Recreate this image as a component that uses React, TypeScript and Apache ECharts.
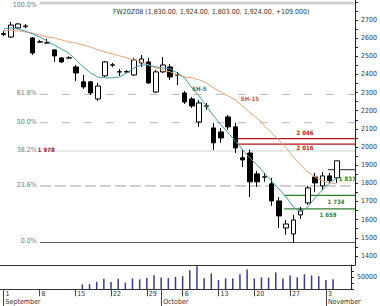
import React, { useEffect, useRef } from 'react';
import * as echarts from 'echarts';

// Trading sessions (two empty slots on the right keep space before the price axis)
const dates = [
  '2008-09-01', '2008-09-02', '2008-09-03', '2008-09-04', '2008-09-05',
  '2008-09-08', '2008-09-09', '2008-09-10', '2008-09-11', '2008-09-12',
  '2008-09-15', '2008-09-16', '2008-09-17', '2008-09-18', '2008-09-19',
  '2008-09-22', '2008-09-23', '2008-09-24', '2008-09-25', '2008-09-26',
  '2008-09-29', '2008-09-30',
  '2008-10-01', '2008-10-02', '2008-10-03',
  '2008-10-06', '2008-10-07', '2008-10-08', '2008-10-09', '2008-10-10',
  '2008-10-13', '2008-10-14', '2008-10-15', '2008-10-16', '2008-10-17',
  '2008-10-20', '2008-10-21', '2008-10-22', '2008-10-23', '2008-10-24',
  '2008-10-27', '2008-10-28', '2008-10-29', '2008-10-30', '2008-10-31',
  '2008-11-03', '2008-11-04', '2008-11-05', '2008-11-06',
];

const opens = [
  2620, 2606, 2656, 2663, 2601, 2578, 2573, 2535, 2491, 2490,
  2441, 2359, 2359, 2265, 2392, 2451, 2413, 2413, 2397, 2463,
  2469, 2303, 2414, 2441, 2398, 2298, 2265, 2138, 2225, 2105,
  2083, 2166, 2111, 1941, 1967, 1852, 1834, 1797, 1703, 1554,
  1521, 1626, 1692, 1835, 1786, 1841, 1830,
];
const highs = [
  2640, 2689, 2683, 2678, 2606, 2590, 2595, 2540, 2496, 2502,
  2452, 2397, 2364, 2353, 2474, 2463, 2430, 2425, 2491, 2507,
  2491, 2425, 2496, 2458, 2414, 2309, 2276, 2259, 2243, 2133,
  2105, 2177, 2133, 1984, 1984, 1868, 1857, 1830, 1725, 1598,
  1626, 1670, 1786, 1857, 1863, 1857, 1924,
];
const lows = [
  2610, 2601, 2650, 2655, 2507, 2573, 2572, 2469, 2463, 2485,
  2364, 2320, 2287, 2254, 2386, 2441, 2392, 2408, 2392, 2441,
  2347, 2298, 2408, 2370, 2342, 2237, 2215, 2111, 2204, 1984,
  2023, 2094, 1967, 1890, 1725, 1780, 1808, 1676, 1554, 1516,
  1474, 1604, 1681, 1753, 1764, 1802, 1803,
];
const closes = [
  2625, 2672, 2678, 2667, 2518, 2580, 2574, 2502, 2469, 2492,
  2408, 2331, 2298, 2336, 2469, 2453, 2415, 2416, 2480, 2485,
  2353, 2414, 2452, 2386, 2396, 2248, 2226, 2243, 2227, 2023,
  2050, 2111, 1995, 1929, 1808, 1808, 1836, 1703, 1620, 1576,
  1598, 1653, 1775, 1802, 1841, 1815, 1924,
];
const volumes = [
  null, null, null, null, null, null, null, null, null, null,
  null, 20300, 21000, 31000, 43000, 30000, 43000, 27000, 45000, 41000,
  46000, 58000, 49000, 46000, 51000, 54000, 78000, 95000, 45000, 65000,
  38000, 45000, 44000, 62000, 81000, 45000, 49000, 48000, 69000, 44000,
  57000, 49000, 62000, 57000, 54000, 38000, 41000,
];

// Moving averages as plotted
const sh5 = [
  2650, 2656, 2650, 2639, 2623, 2606, 2584, 2562, 2540, 2518,
  2480, 2441, 2408, 2386, 2381, 2381, 2386, 2408, 2436, 2452,
  2452, 2441, 2436, 2430, 2408, 2381, 2325, 2281, 2226, 2171,
  2122, 2078, 2034, 1984, 1940, 1901, 1857, 1813, 1769, 1725,
  1670, 1642, 1670, 1720, 1764, 1802, 1830,
];
const sh15 = [
  2639, 2645, 2639, 2634, 2628, 2617, 2606, 2601, 2590, 2579,
  2573, 2562, 2551, 2535, 2524, 2513, 2502, 2491, 2480, 2469,
  2452, 2436, 2425, 2414, 2397, 2386, 2381, 2370, 2353, 2325,
  2303, 2281, 2259, 2226, 2188, 2160, 2116, 2078, 2039, 1995,
  1945, 1901, 1863, 1835, 1813, 1802, 1797,
];

// Fibonacci retracement between swing high and swing low
const fibHigh = 2794;
const fibLow = 1474;
const fibRatios = [1, 0.618, 0.5, 0.382, 0.236, 0];
const redLevels = [2046, 2016];
const greenLevels = [1734, 1659];
const greenMarker = 1837;
const lastPriceLine = 1875;

const FONT = "'Liberation Sans Narrow', 'DejaVu Sans Condensed', 'Liberation Sans', sans-serif";
const RED = '#b3121b';
const GREEN = '#2f7d2f';

const fmtLevel = (v: number) => {
  const r = Math.round(v);
  return `${Math.floor(r / 1000)} ${String(r % 1000).padStart(3, '0')}`;
};

const fibStyles: Record<string, { stroke: string; width: number; dash: number[] | null }> = {
  '1': { stroke: '#cfcfcf', width: 3, dash: null },
  '0.618': { stroke: '#b8b8b8', width: 1, dash: [8, 14] },
  '0.5': { stroke: '#b8b8b8', width: 1, dash: [8, 14] },
  '0.382': { stroke: '#a8a8a8', width: 1, dash: [1, 1] },
  '0.236': { stroke: '#a0a0a0', width: 1, dash: [11, 4] },
  '0': { stroke: '#555555', width: 1, dash: null },
};

const isMonday = (i: number) => new Date(dates[i] + 'T12:00:00Z').getUTCDay() === 1;
const isMonthStart = (i: number) => i === 0 || dates[i].slice(5, 7) !== dates[i - 1].slice(5, 7);
const monthNames = ['January', 'February', 'March', 'April', 'May', 'June', 'July', 'August', 'September', 'October', 'November', 'December'];

export default function App() {
  const ref = useRef<HTMLDivElement>(null);

  useEffect(() => {
    if (!ref.current) return;
    const chart = echarts.init(ref.current, null, { renderer: 'svg' });

    const candleData = opens.map((o, i) => [o, closes[i], lows[i], highs[i]]);
    const fibData = fibRatios.map((r) => [5, fibLow + r * (fibHigh - fibLow), r]);

    const gridLeft = -1.2;
    const gridWidth = 360.15;

    chart.setOption({
      animation: false,
      backgroundColor: '#ffffff',
      title: {
        text: `FW20Z08 (${[opens[46], highs[46], lows[46], closes[46]]
          .map((v) => v.toLocaleString('en-US', { minimumFractionDigits: 2 }))
          .join(', ')}, +${(closes[46] - closes[45]).toFixed(3)})`,
        left: 108,
        top: 3,
        textStyle: { fontSize: 7, fontWeight: 'normal', color: '#333', fontFamily: FONT },
      },
      grid: [
        { left: gridLeft, top: 0, width: gridWidth, height: 265 },
        { left: gridLeft, top: 265, width: gridWidth, height: 24.3 },
      ],
      xAxis: [
        {
          gridIndex: 0, type: 'category', data: dates, boundaryGap: true,
          axisLine: { show: true, lineStyle: { color: '#333', width: 1 } },
          axisTick: { show: false }, axisLabel: { show: false }, splitLine: { show: false },
        },
        {
          gridIndex: 1, type: 'category', data: dates, boundaryGap: true, position: 'bottom',
          axisLine: { show: true, lineStyle: { color: '#333', width: 1 } },
          axisTick: { show: true, alignWithLabel: true, interval: (i: number) => isMonday(i), length: 7, lineStyle: { color: '#444' } },
          axisLabel: {
            show: true, interval: (i: number) => isMonday(i),
            formatter: (v: string) => String(Number(v.slice(8, 10))),
            align: 'left', margin: 1, padding: [0, 0, 0, 2],
            fontSize: 7, color: '#333', fontFamily: FONT,
          },
          splitLine: { show: false },
        },
        {
          gridIndex: 1, type: 'category', data: dates, boundaryGap: true, position: 'bottom',
          axisLine: { show: false },
          axisTick: { show: true, alignWithLabel: true, interval: (i: number) => isMonthStart(i), length: 17, lineStyle: { color: '#444' } },
          axisLabel: {
            show: true, interval: (i: number) => isMonthStart(i),
            formatter: (v: string) => monthNames[Number(v.slice(5, 7)) - 1],
            align: 'left', margin: 9, padding: [0, 0, 0, 2],
            fontSize: 7, color: '#333', fontFamily: FONT,
          },
          splitLine: { show: false },
        },
      ],
      yAxis: [
        {
          gridIndex: 0, type: 'value', position: 'right', min: 1350, max: 2810, interval: 50,
          axisLine: { show: true, lineStyle: { color: '#222' } },
          axisTick: { show: true, length: 3, lineStyle: { color: '#222' } },
          axisLabel: {
            show: true, margin: 6, fontSize: 7, color: '#333', fontFamily: FONT,
            showMinLabel: false, showMaxLabel: false,
            formatter: (v: number) => (v % 100 === 0 && v >= 1400 && v <= 2700 ? String(v) : ''),
          },
          splitLine: { show: false },
        },
        {
          gridIndex: 1, type: 'value', position: 'right', min: 0, max: 100000, interval: 25000,
          axisLine: { show: true, lineStyle: { color: '#222' } },
          axisTick: { show: true, length: 3, lineStyle: { color: '#222' } },
          axisLabel: {
            show: true, margin: 6, fontSize: 7, color: '#333', fontFamily: FONT,
            formatter: (v: number) => (v === 50000 ? String(v) : ''),
          },
          splitLine: { show: false },
        },
      ],
      series: [
        {
          type: 'custom', xAxisIndex: 0, yAxisIndex: 0, z: 1,
          data: fibData,
          encode: { x: 0, y: 1 },
          renderItem: (params: any, api: any) => {
            const ratio = api.value(2);
            const level = api.value(1);
            const [x0, y] = api.coord([api.value(0), level]);
            const x1 = params.coordSys.x + params.coordSys.width;
            const st = fibStyles[String(ratio)];
            const children: any[] = [];
            const startX = ratio === 0.382 ? x0 + 8 : x0;
            children.push({
              type: 'line', silent: true,
              shape: { x1: startX, y1: y, x2: x1, y2: y },
              style: { stroke: st.stroke, lineWidth: st.width, lineDash: st.dash },
            });
            children.push({
              type: 'text', silent: true,
              style: {
                x: x0 - 3, y: ratio === 1 ? Math.max(y, 5) : y - 1,
                text: `${(ratio * 100).toFixed(1)}%`,
                align: 'right', verticalAlign: 'middle',
                fill: '#777', font: `7px ${FONT}`,
              },
            });
            if (ratio === 0.382) {
              children.push({
                type: 'text', silent: true,
                style: {
                  x: x0 - 2, y: y - 1, text: fmtLevel(level),
                  align: 'left', verticalAlign: 'middle',
                  fill: RED, font: `bold 6px ${FONT}`,
                },
              });
            }
            return { type: 'group', children };
          },
        },
        {
          type: 'candlestick', xAxisIndex: 0, yAxisIndex: 0, z: 3,
          data: candleData, barWidth: 5,
          itemStyle: {
            color: '#ffffff', color0: '#000000',
            borderColor: '#000000', borderColor0: '#000000', borderWidth: 1,
          },
        },
        {
          type: 'line', xAxisIndex: 0, yAxisIndex: 0, z: 4, data: sh15,
          symbol: 'none', lineStyle: { color: '#e3a57a', width: 1 },
          markPoint: {
            symbol: 'circle', symbolSize: 0,
            label: { show: true, formatter: 'SH-15', color: '#c8602a', fontSize: 6, fontWeight: 'bold', fontFamily: FONT },
            data: [{ coord: [34, 2265] }],
          },
        },
        {
          type: 'line', xAxisIndex: 0, yAxisIndex: 0, z: 4, data: sh5,
          symbol: 'none', lineStyle: { color: '#4a9ba8', width: 1 },
          markPoint: {
            symbol: 'circle', symbolSize: 0,
            label: { show: true, formatter: 'SH-5', color: '#2a7f8c', fontSize: 6, fontWeight: 'bold', fontFamily: FONT },
            data: [{ coord: [27, 2325] }],
          },
        },
        {
          type: 'custom', xAxisIndex: 0, yAxisIndex: 0, z: 2,
          data: redLevels.map((v, i) => [32, v, i]),
          encode: { x: 0, y: 1 },
          renderItem: (params: any, api: any) => {
            const level = api.value(1);
            const [x0, y] = api.coord([api.value(0), level]);
            const x1 = params.coordSys.x + params.coordSys.width;
            const above = api.value(2) === 0;
            return {
              type: 'group',
              children: [
                { type: 'line', silent: true, shape: { x1: x0, y1: y, x2: x1, y2: y }, style: { stroke: RED, lineWidth: 1.2 } },
                {
                  type: 'text', silent: true,
                  style: {
                    x: 305, y: above ? y - 6 : y + 3, text: fmtLevel(level),
                    align: 'center', verticalAlign: 'middle', fill: RED, font: `bold 6px ${FONT}`,
                  },
                },
              ],
            };
          },
        },
        {
          type: 'custom', xAxisIndex: 0, yAxisIndex: 0, z: 2,
          data: greenLevels.map((v, i) => [39, v, i]),
          encode: { x: 0, y: 1 },
          renderItem: (params: any, api: any) => {
            const level = api.value(1);
            const [x0, y] = api.coord([api.value(0), level]);
            const x1 = params.coordSys.x + params.coordSys.width;
            const first = api.value(2) === 0;
            return {
              type: 'group',
              children: [
                { type: 'line', silent: true, shape: { x1: x0 - 2, y1: y, x2: x1, y2: y }, style: { stroke: GREEN, lineWidth: 1.2 } },
                {
                  type: 'text', silent: true,
                  style: {
                    x: first ? 336 : 328, y: y + 6, text: fmtLevel(level),
                    align: 'center', verticalAlign: 'middle', fill: GREEN, font: `bold 6px ${FONT}`,
                  },
                },
              ],
            };
          },
        },
        {
          type: 'custom', xAxisIndex: 0, yAxisIndex: 0, z: 2,
          data: [[46, greenMarker, lastPriceLine]],
          encode: { x: 0, y: 1 },
          renderItem: (params: any, api: any) => {
            const [x0, y] = api.coord([api.value(0), api.value(1)]);
            const yLine = api.coord([api.value(0), api.value(2)])[1];
            const x1 = params.coordSys.x + params.coordSys.width;
            return {
              type: 'group',
              children: [
                { type: 'line', silent: true, shape: { x1: x0 - 9, y1: yLine, x2: x1, y2: yLine }, style: { stroke: '#222', lineWidth: 1 } },
                {
                  type: 'text', silent: true,
                  style: {
                    x: x0 + 2, y: y + 2, text: fmtLevel(api.value(1)),
                    align: 'left', verticalAlign: 'middle', fill: GREEN, font: `bold 6px ${FONT}`,
                  },
                },
              ],
            };
          },
        },
        {
          type: 'bar', xAxisIndex: 1, yAxisIndex: 1, data: volumes,
          barWidth: 1.5, itemStyle: { color: '#3b3b88' },
        },
      ],
    });

    return () => chart.dispose();
  }, []);

  return <div ref={ref} style={{ position: 'fixed', left: 0, top: 0, width: 380, height: 306 }} />;
}
